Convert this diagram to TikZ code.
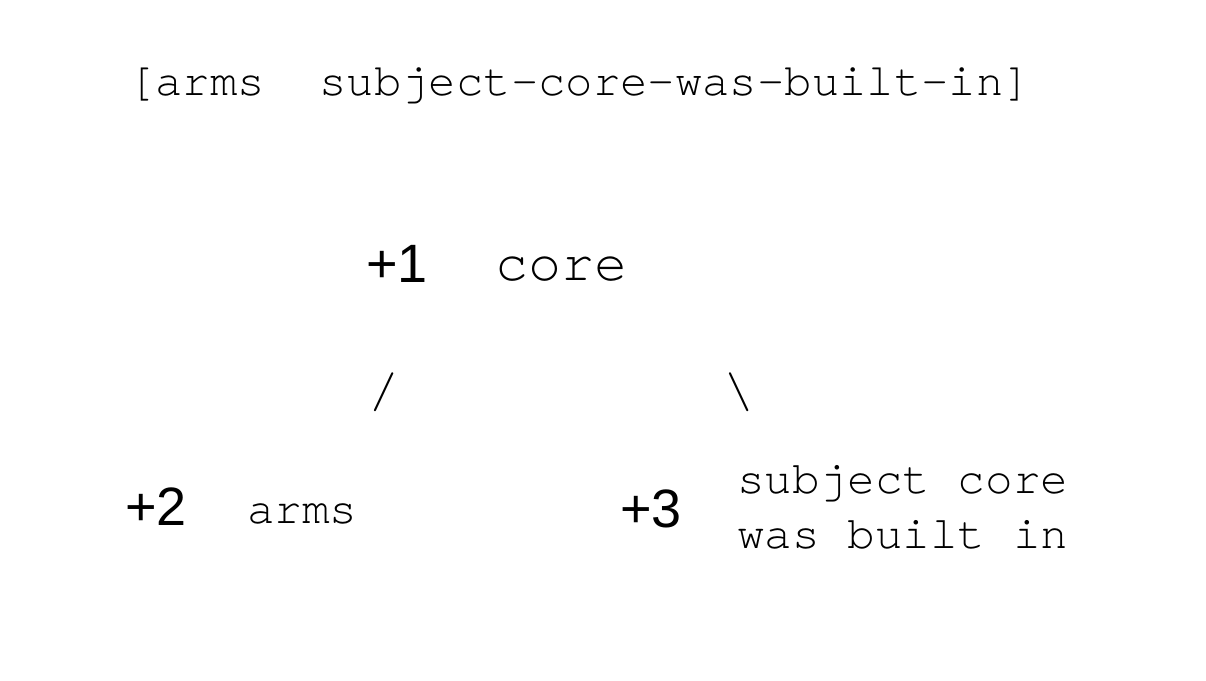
\documentclass[tikz,border=0pt]{standalone}
\usepackage{fontspec}
\setmainfont{Liberation Sans}
\newfontfamily\monof{TeX Gyre Cursor}
\newfontfamily\sansf{Liberation Sans}
\tikzset{
  txt/.style={inner sep=0pt, outer sep=0pt, anchor=base west, text=black},
  rank/.style={txt, font=\sansf\fontsize{54}{60}\selectfont},
  big/.style={txt, font=\monof\fontsize{55}{64}\selectfont},
  mid/.style={txt, font=\monof\fontsize{46}{55}\selectfont},
  slash/.style={inner sep=0pt, outer sep=0pt, anchor=base, font=\monof\fontsize{52}{60}\selectfont},
}
\begin{document}
\begin{tikzpicture}[x=1pt,y=-1pt]
\useasboundingbox[fill=white] (0,0) rectangle (1206,680);
\node[txt, font=\monof\fontsize{45.6}{54}\selectfont] (title) at (128,95) {[arms\ \ subject-core-was-built-in]};
\node[rank] (r1) at (366,282) {+1};
\node[big] (core) at (495,280) {core};
\node[slash] (ls) at (384,407) {/};
\node[slash] (rs) at (739,407) {\textbackslash};
\node[rank] (r2) at (125,525) {+2};
\node[mid] (arms) at (247,523) {arms};
\node[rank] (r3) at (620,527) {+3};
\node[mid, align=left] (sub) at (737,548) {subject core\\was built in};
\end{tikzpicture}
\end{document}
